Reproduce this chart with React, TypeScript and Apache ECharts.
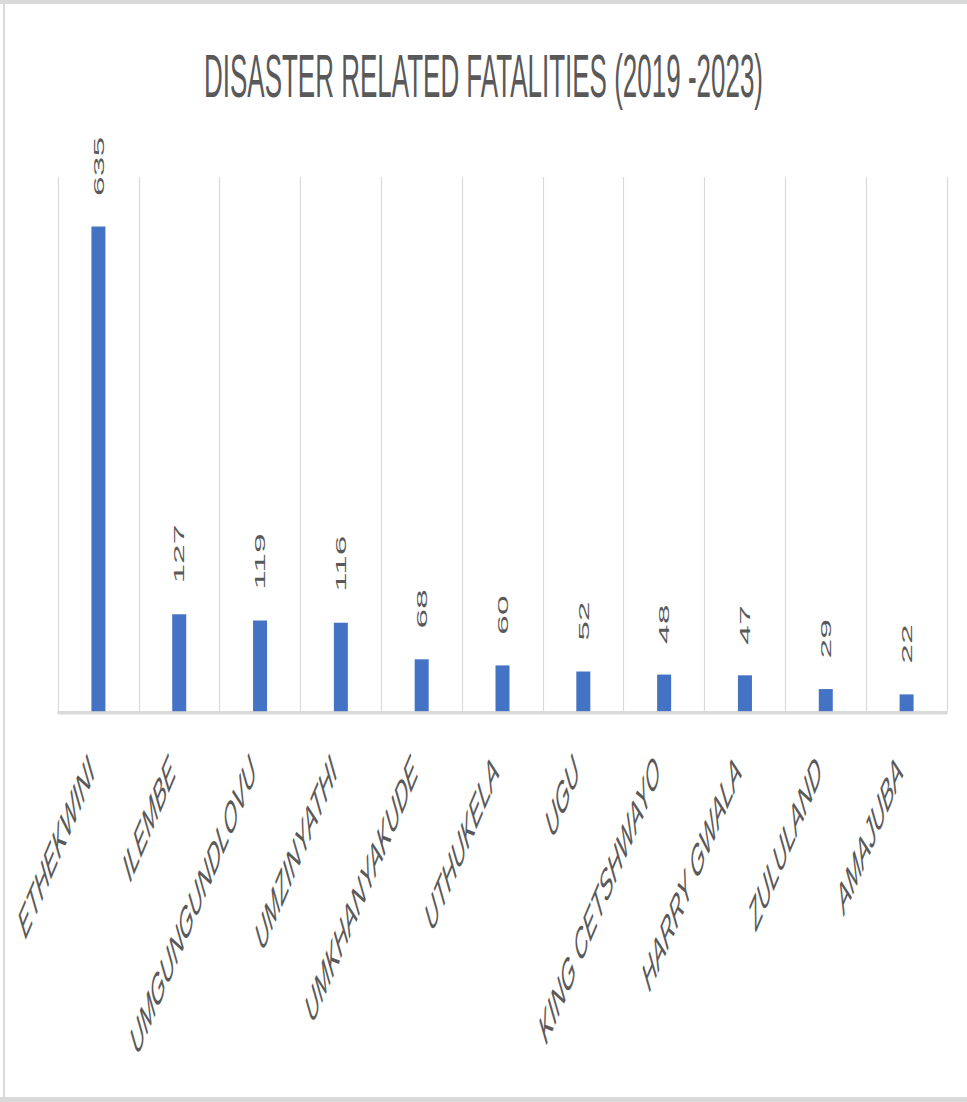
import React, { useEffect, useRef } from "react";
import * as echarts from "echarts";

const categories = [
  "ETHEKWINI",
  "ILEMBE",
  "UMGUNGUNDLOVU",
  "UMZINYATHI",
  "UMKHANYAKUDE",
  "UTHUKELA",
  "UGU",
  "KING CETSHWAYO",
  "HARRY GWALA",
  "ZULULAND",
  "AMAJUBA",
];
const fatalities = [635, 127, 119, 116, 68, 60, 52, 48, 47, 29, 22];
const titleText = "DISASTER RELATED FATALITIES (2019 -2023)";
const yMax = 700;

// The reference is an Excel chart stretched vertically; we render at the
// native height and stretch the drawing with CSS.
const PAGE_W = 967;
const PAGE_H = 1102;
const STRETCH = 2.36;
const INNER_H = PAGE_H / STRETCH;

export default function App() {
  const ref = useRef<HTMLDivElement>(null);

  useEffect(() => {
    if (!ref.current) return;
    const chart = echarts.init(ref.current, null, { renderer: "svg" });
    const grey = "#d9d9d9";
    chart.setOption({
      animation: false,
      backgroundColor: "#ffffff",
      title: {
        text: titleText,
        left: "center",
        top: 14,
        textStyle: {
          fontFamily: "'Liberation Sans', sans-serif",
          fontSize: 26,
          fontWeight: "normal",
          color: "#595959",
        },
      },
      graphic: [
        { type: "rect", left: 0, top: 0, shape: { width: PAGE_W, height: 1.7 }, style: { fill: grey } },
        { type: "rect", left: 3, top: 0, shape: { width: 2, height: INNER_H }, style: { fill: grey } },
        { type: "rect", left: 0, top: INNER_H - 2.1, shape: { width: PAGE_W, height: 2.1 }, style: { fill: grey } },
      ],
      grid: {
        left: 58,
        right: 20,
        top: 75,
        bottom: INNER_H - 301.3,
        containLabel: false,
      },
      xAxis: {
        type: "category",
        data: categories,
        boundaryGap: true,
        axisLine: { show: true, lineStyle: { color: grey, width: 1.5 } },
        axisTick: { show: false },
        splitLine: { show: true, lineStyle: { color: grey, width: 1.2 } },
        axisLabel: {
          interval: 0,
          rotate: 45,
          margin: 15,
          padding: [0, 10, 0, 0],
          fontSize: 18,
          fontStyle: "italic",
          fontFamily: "'Liberation Sans', sans-serif",
          color: "#595959",
        },
      },
      yAxis: {
        type: "value",
        min: 0,
        max: yMax,
        show: false,
        splitLine: { show: false },
      },
      series: [
        {
          type: "bar",
          data: fatalities,
          barWidth: 14,
          itemStyle: { color: "#4472C4" },
          label: {
            show: true,
            position: "top",
            rotate: 90,
            align: "left",
            verticalAlign: "middle",
            distance: 13,
            fontSize: 15,
            fontFamily: "'Liberation Sans', sans-serif",
            color: "#595959",
          },
        },
      ],
    });
    return () => chart.dispose();
  }, []);

  return (
    <div
      style={{
        position: "absolute",
        left: 0,
        top: 0,
        width: PAGE_W,
        height: PAGE_H,
        overflow: "hidden",
        background: "#ffffff",
      }}
    >
      <div
        ref={ref}
        style={{
          width: PAGE_W,
          height: INNER_H,
          transform: `scaleY(${STRETCH})`,
          transformOrigin: "0 0",
        }}
      />
    </div>
  );
}
